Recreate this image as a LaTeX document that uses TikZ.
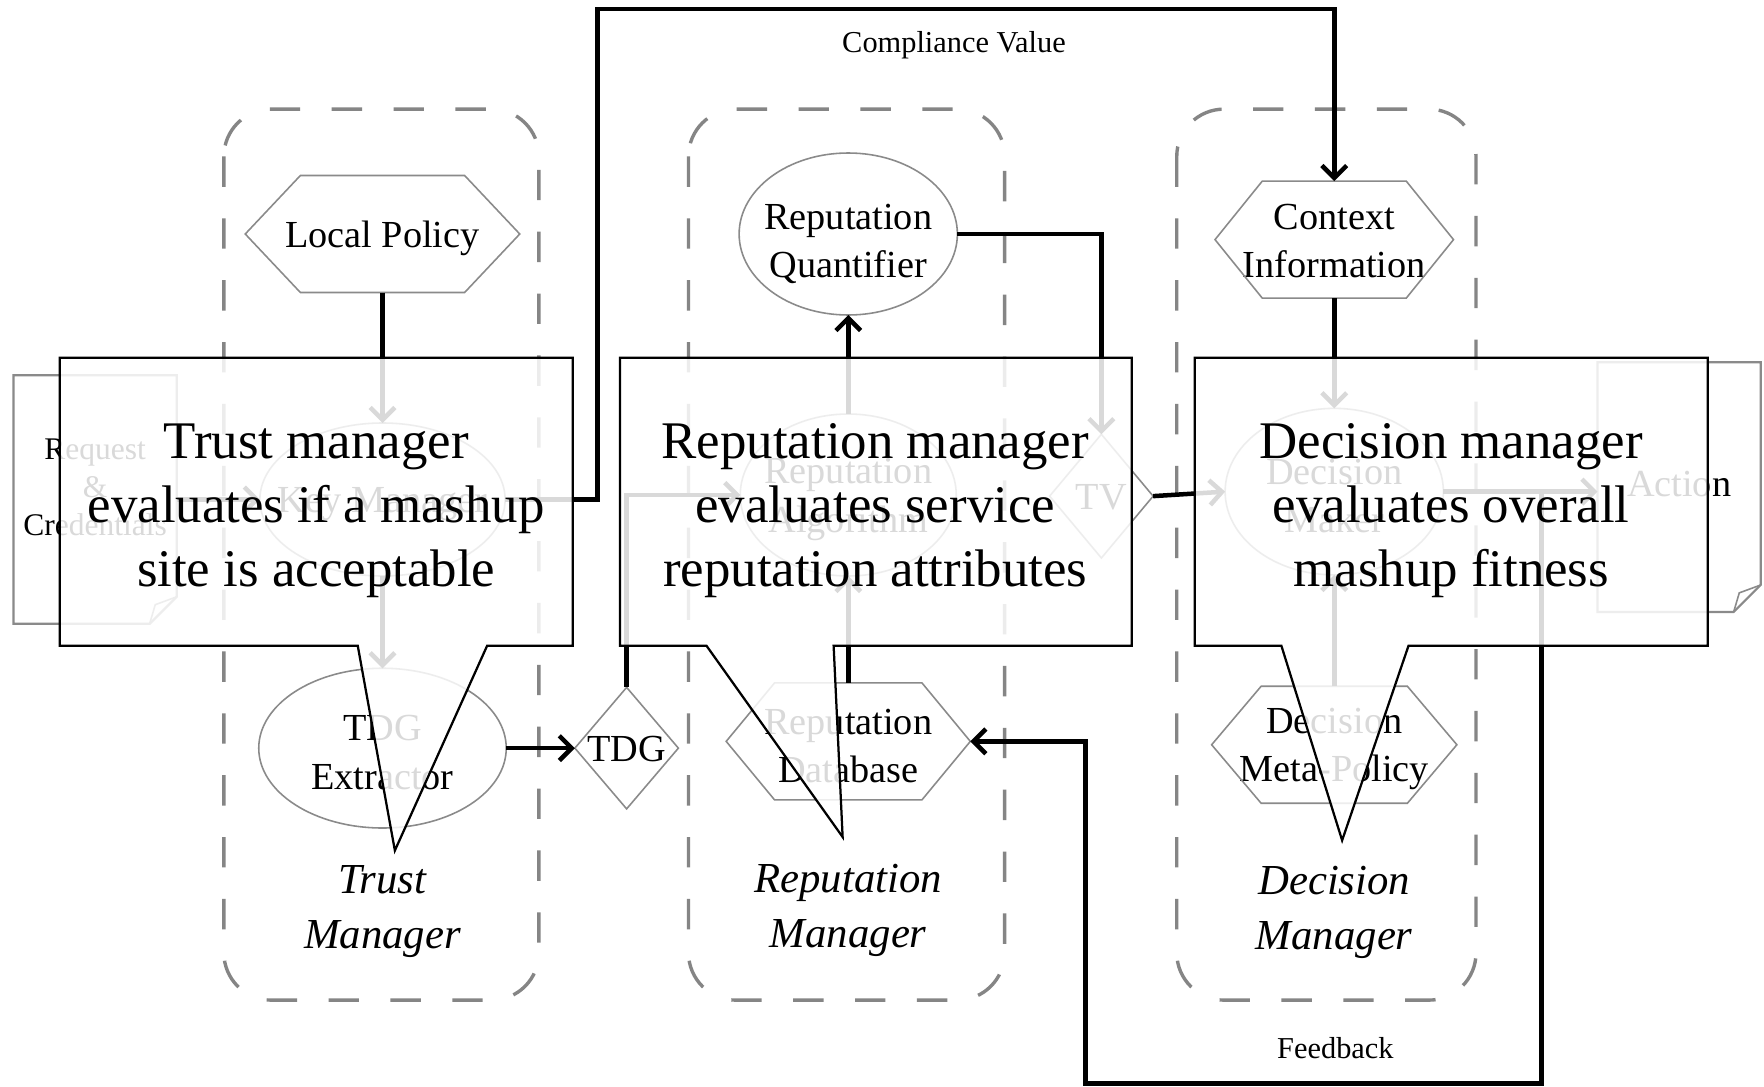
\documentclass[tikz,border=0pt]{standalone}
\usepackage{fontspec}
\setmainfont{Liberation Serif}
\usetikzlibrary{shapes.geometric,arrows.meta,calc}
\definecolor{shapegray}{HTML}{8A8A8A}
\definecolor{boxgray}{HTML}{858585}
\begin{document}
\begin{tikzpicture}[x=1pt,y=-1pt,
  every node/.style={inner sep=0pt,outer sep=0pt},
  nodetext/.style={font=\fontsize{34}{43}\selectfont,align=center},
  txt/.style={label={[nodetext,yshift=-4pt]center:{#1}}},
  txtc/.style={label={[nodetext,yshift=-1pt]center:{#1}}},
  smalltext/.style={font=\fontsize{28}{34}\selectfont,align=center},
  labeltext/.style={font=\fontsize{27}{32}\selectfont},
  mgrtext/.style={font=\fontsize{38}{49}\selectfont\itshape,align=center},
  calltext/.style={font=\fontsize{47}{57}\selectfont,align=center},
  shapeline/.style={draw=shapegray,line width=1.4pt},
  docline/.style={draw=shapegray,line width=2pt},
  ell/.style={ellipse,shapeline},
  boxnode/.style={rectangle,draw=none},
  container/.style={draw=boxgray,line width=3pt,dash pattern=on 27pt off 28pt,rounded corners=42pt},
  conn/.style={draw=black,line width=4pt},
  arr/.style={conn,-{Straight Barb[length=11pt,width=22pt]}},
  callout/.style={draw=black,line width=2pt,fill=white,fill opacity=0.85},
]
\fill[white] (0,0) rectangle (1568,966);
\useasboundingbox (0,0) rectangle (1568,966);

% containers
\draw[container] (199,97) rectangle (479,889);
\draw[container] (612,97) rectangle (893,889);
\draw[container] (1046,97) rectangle (1312,889);

% hexagon nodes
\node[boxnode,minimum width=244pt,minimum height=104pt,txt={Local Policy}] (lp) at (340,208) {};
\node[boxnode,minimum width=217pt,minimum height=104pt,txt={Reputation\\Database}] (rdb) at (754,659) {};
\node[boxnode,minimum width=212pt,minimum height=104pt,txtc={Context\\Information}] (ci) at (1186,213) {};
\node[boxnode,minimum width=218pt,minimum height=104pt,txt={Decision\\Meta-Policy}] (dmp) at (1186,662) {};
\foreach \n/\d in {lp/49,rdb/43,ci/42,dmp/44}{
  \draw[shapeline] (\n.west) -- ($(\n.north west)+(\d,0)$) -- ($(\n.north east)+(-\d,0)$)
    -- (\n.east) -- ($(\n.south east)+(-\d,0)$) -- ($(\n.south west)+(\d,0)$) -- cycle;
}

% ellipse nodes
\node[ell,minimum width=218pt,minimum height=136pt,txt={Key Manager}] (km) at (340,444) {};
\node[ell,minimum width=220pt,minimum height=142pt,txt={TDG\\Extractor}] (te) at (340,665) {};
\node[ell,minimum width=194pt,minimum height=144pt,label={[nodetext,yshift=-9pt]center:{Reputation\\Quantifier}}] (rq) at (754,208) {};
\node[ell,minimum width=192pt,minimum height=144pt,txt={Reputation\\Algorithm}] (ra) at (754,440) {};
\node[ell,minimum width=194pt,minimum height=148pt,txt={Decision\\Maker}] (dm) at (1186,437) {};

% diamond nodes
\node[boxnode,minimum width=92pt,minimum height=108pt,txtc={TDG}] (tdg) at (557,665) {};
\node[boxnode,minimum width=92pt,minimum height=110pt,txtc={TV}] (tv) at (979,441) {};
\foreach \n in {tdg,tv}{
  \draw[shapeline] (\n.west) -- (\n.north) -- (\n.east) -- (\n.south) -- cycle;
}

% documents
\node[rectangle,minimum width=145pt,minimum height=221pt,
  label={[smalltext,yshift=11pt]center:{Request\\\&\\Credentials}}] (req) at (84.5,444) {};
\node[rectangle,minimum width=145pt,minimum height=222pt,
  label={[nodetext,yshift=3pt]center:Action}] (act) at (1492.5,433) {};
\foreach \n in {req,act}{
  \draw[docline] (\n.north west) -- (\n.north east) -- ($(\n.south east)+(0,-24)$)
    -- ($(\n.south east)+(-24,0)$) -- (\n.south west) -- cycle;
  \draw[docline,line width=1.4pt] ($(\n.south east)+(-24,0)$) -- ($(\n.south east)+(-19,-17)$) -- ($(\n.south east)+(0,-24)$);
}

% connectors
\draw[arr] (lp.south) -- (km.north);
\draw[arr] (km.south) -- (te.north);
\draw[arr] (req.east) -- (km.west);
\draw[arr] (te.east) -- (tdg.west);
\draw[arr] (tdg.north) |- (ra.west);
\draw[arr] (rdb.north) -- (ra.south);
\draw[arr] (ra.north) -- (rq.south);
\draw[arr] (rq.east) -| (tv.north);
\draw[arr] (tv.east) -- (dm.west);
\draw[arr] (ci.south) -- (dm.north);
\draw[arr] (dmp.north) -- (dm.south);
\draw[arr] (dm.east) -- (dm.east -| act.west);
\coordinate (cvtop) at (531,8);
\draw[arr] (km.east) -| (cvtop) -| (ci.north);
\coordinate (fbx) at (1370,0);
\coordinate (fbbot) at (1370,963);
\coordinate (fbleft) at (965,963);
\draw[arr] (fbx |- dm.east) -- (fbbot) -- (fbleft) |- (rdb.east);

% labels
\node[labeltext] (cvlabel) at (848,40) {Compliance Value};
\node[labeltext] (fblabel) at (1187,932) {Feedback};
\node[mgrtext] (tmlabel) at (340,810) {Trust\\Manager};
\node[mgrtext] (rmlabel) at (754,809) {Reputation\\Manager};
\node[mgrtext] (dmlabel) at (1186,811) {Decision\\Manager};

% callouts
\draw[callout] (53,318) -- (509,318) -- (509,574) -- (433,574) -- (351,756) -- (318,574) -- (53,574) -- cycle;
\node[calltext] (c1) at (281,454) {Trust manager\\evaluates if a mashup\\site is acceptable};
\draw[callout] (551,318) -- (1006,318) -- (1006,574) -- (741,574) -- (749,744) -- (628,574) -- (551,574) -- cycle;
\node[calltext] (c2) at (778,454) {Reputation manager\\evaluates service\\reputation attributes};
\draw[callout] (1062,318) -- (1518,318) -- (1518,574) -- (1252,574) -- (1193,747) -- (1139,574) -- (1062,574) -- cycle;
\node[calltext] (c3) at (1290,454) {Decision manager\\evaluates overall\\mashup fitness};
\end{tikzpicture}
\end{document}
